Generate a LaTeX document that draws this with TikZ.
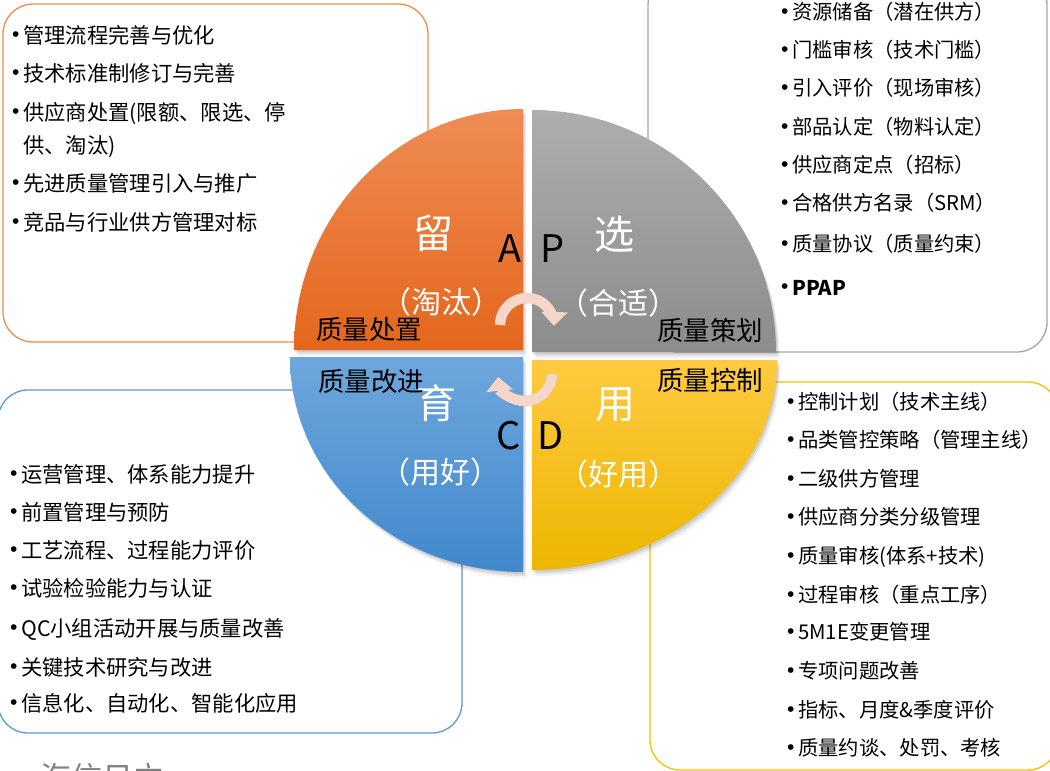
\documentclass[tikz,border=0pt]{standalone}
\usepackage{fontspec}
\setmainfont{Noto Sans CJK SC}
\newfontfamily\dotfont{Liberation Sans}
\usetikzlibrary{arrows.meta}

\definecolor{boxorange}{RGB}{240,140,75}
\definecolor{boxgray}{RGB}{165,165,165}
\definecolor{boxblue}{RGB}{91,155,213}
\definecolor{boxyellow}{RGB}{255,192,0}
\definecolor{orangetop}{RGB}{239,140,84}
\definecolor{orangebot}{RGB}{228,102,28}
\definecolor{graytop}{RGB}{174,174,174}
\definecolor{graybot}{RGB}{140,140,140}
\definecolor{bluetop}{RGB}{110,167,221}
\definecolor{bluebot}{RGB}{64,136,204}
\definecolor{yellowtop}{RGB}{255,202,64}
\definecolor{yellowbot}{RGB}{236,182,0}
\definecolor{cycpink}{RGB}{246,214,200}
\definecolor{footgray}{RGB}{128,128,128}

\newcommand\setfs[1]{\fontsize{#1}{#1}\selectfont}
\newcommand\bul{\makebox[11pt][l]{\raisebox{1.2pt}{\dotfont\setfs{21}•}}}

% the four quarters of the cycle
\def\qorange{(523,-350) -- (294,-350) arc[start angle=180, end angle=90, x radius=229, y radius=241] -- cycle}
\def\qgray{(532,-352) -- (532,-110) arc[start angle=90, end angle=0, x radius=244, y radius=242] -- cycle}
\def\qblue{(523,-357) -- (290,-357) arc[start angle=180, end angle=270, x radius=233, y radius=215] -- cycle}
\def\qyellow{(532,-360) -- (777,-360) arc[start angle=0, end angle=-90, x radius=245, y radius=210] -- cycle}

\begin{document}
\begin{tikzpicture}[x=1pt, y=1pt,
  boxline/.style={line width=1.3pt, rounded corners=30pt},
  mainchar/.style={text=white, font=\setfs{40}},
  subchar/.style={text=white, font=\setfs{30}},
  pdca/.style={font=\setfs{38}},
  phase/.style={font=\setfs{26.5}},
  litem/.style={anchor=base west, inner sep=0pt, font=\setfs{21.3}},
  ritem/.style={anchor=base west, inner sep=0pt, font=\setfs{20.3}},
  cycarrow/.style={line width=10.5pt, draw=cycpink, -{Triangle[length=14pt,width=26pt]}},
  cycshadow/.style={line width=10.5pt, draw=black, opacity=0.2, -{Triangle[length=14pt,width=26pt]}}
]
\clip (0,0) rectangle (1050,-771);
\fill[white] (0,0) rectangle (1050,-771);

% list frames
\draw[boxline, draw=boxorange] (3,-4) rectangle (428,-342);
\draw[boxline, draw=boxgray] (648,25) rectangle (1047,-352);
\draw[boxline, draw=boxblue] (-2,-390) rectangle (462,-733);
\draw[boxline, draw=boxyellow] (650,-382) rectangle (1058,-770);

% soft shadow under the quarters
\foreach \s/\o in {6/0.05, 4/0.07, 2/0.09} {
  \fill[black, opacity=\o, shift={(0.6*\s,-\s)}] \qorange;
  \fill[black, opacity=\o, shift={(0.6*\s,-\s)}] \qgray;
  \fill[black, opacity=\o, shift={(0.6*\s,-\s)}] \qblue;
  \fill[black, opacity=\o, shift={(0.6*\s,-\s)}] \qyellow;
}

% quarters
\shade[top color=orangetop, bottom color=orangebot] \qorange;
\shade[top color=graytop, bottom color=graybot] \qgray;
\shade[top color=bluetop, bottom color=bluebot] \qblue;
\shade[top color=yellowtop, bottom color=yellowbot] \qyellow;

% cycle arrows
\coordinate (ctop) at (500,-325);
\coordinate (cbot) at (552,-374);
\draw[cycshadow, shift={(2,-3)}] (ctop) arc[start angle=180, end angle=-2, radius=27];
\draw[cycshadow, shift={(2,-3)}] (cbot) arc[start angle=0, end angle=-174, radius=27];
\draw[cycarrow] (ctop) arc[start angle=180, end angle=-2, radius=27];
\draw[cycarrow] (cbot) arc[start angle=0, end angle=-174, radius=27];

% labels inside the quarters
\node[mainchar] (liu) at (433,-233) {留};
\node[mainchar] (xuan) at (614,-234) {选};
\node[mainchar] (yu) at (436,-403) {育};
\node[mainchar] (yong) at (615,-405) {用};
\node[subchar] (taotai) at (441,-302) {（淘汰）};
\node[subchar] (heshi) at (618,-303) {（合适）};
\node[subchar] (yonghao) at (440,-472) {（用好）};
\node[subchar] (haoyong) at (618,-474) {（好用）};
\node[pdca] (la) at (510,-249) {A};
\node[pdca] (lp) at (553,-249) {P};
\node[pdca] (lc) at (509,-436) {C};
\node[pdca] (ld) at (551,-436) {D};
\node[phase] (chuzhi) at (369,-329) {质量处置};
\node[phase] (cehua) at (710,-330) {质量策划};
\node[phase] (gaijin) at (371,-381) {质量改进};
\node[phase] (kongzhi) at (710,-380) {质量控制};

% top left list
\foreach \y/\t [count=\i] in {35/管理流程完善与优化, 73/技术标准制修订与完善, 112/供应商处置(限额、限选、停, 183/先进质量管理引入与推广, 222/竞品与行业供方管理对标}
  \node[litem] (tl\i) at (12,-\y-8) {\bul\t};
\node[litem] (tl3b) at (23,-145-8) {供、淘汰)};

% top right list
\foreach \y/\t [count=\i] in {12/资源储备（潜在供方）, 50/门槛审核（技术门槛）, 88/引入评价（现场审核）, 127/部品认定（物料认定）, 165/供应商定点（招标）, 203/合格供方名录（SRM）, 244/质量协议（质量约束）}
  \node[ritem] (tr\i) at (781,-\y-7.7) {\bul\t};
\node[ritem] (tr8) at (781,-295) {\bul\bfseries PPAP};

% bottom left list
\foreach \y/\t [count=\i] in {474/运营管理、体系能力提升, 512/前置管理与预防, 550/工艺流程、过程能力评价, 588/试验检验能力与认证, 628/QC小组活动开展与质量改善, 667/关键技术研究与改进, 703/信息化、自动化、智能化应用}
  \node[litem] (bl\i) at (10,-\y-8) {\bul\t};

% bottom right list
\foreach \y/\t [count=\i] in {402/控制计划（技术主线）, 440/品类管控策略（管理主线）, 479/二级供方管理, 517/供应商分类分级管理, 556/质量审核(体系+技术), 595/过程审核（重点工序）, 632/5M1E变更管理, 671/专项问题改善, 710/指标、月度\&季度评价, 748/质量约谈、处罚、考核}
  \node[ritem] (br\i) at (787,-\y-7.7) {\bul\t};

% footer caption, cut by the lower edge
\node[anchor=base west, inner sep=0pt, text=footgray, font=\setfs{31}] (foot) at (40,-789) {海信日立};
\end{tikzpicture}
\end{document}
